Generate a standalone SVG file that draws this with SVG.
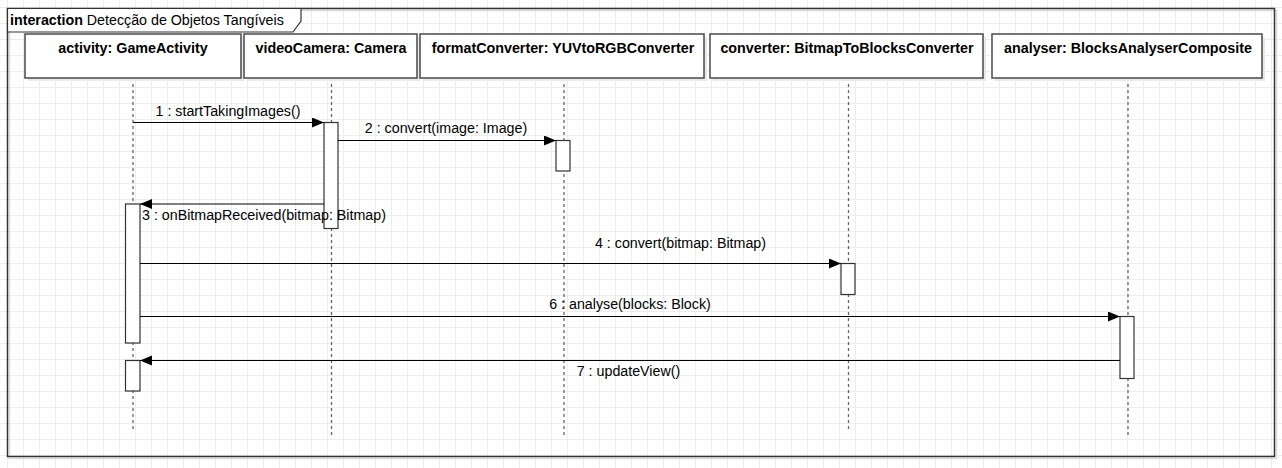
<svg xmlns="http://www.w3.org/2000/svg" width="1282" height="468" viewBox="0 0 1282 468">
<style>
.hdr{fill:#fff;stroke:#4a4a4a;stroke-width:1.5}
.shd{fill:#e9e9e9;stroke:none}
.htxt{font-family:"Liberation Sans",Arial,sans-serif;font-size:14.3px;font-weight:bold;fill:#000;text-anchor:middle}
.life{stroke:#666;stroke-width:1.3;stroke-dasharray:3 3;fill:none}
.act{fill:#fff;stroke:#333;stroke-width:1.2}
.msg{stroke:#000;stroke-width:1.2;fill:none}
.lbl{font-family:"Liberation Sans",Arial,sans-serif;font-size:14.25px;fill:#000}
</style>
<defs>
<pattern id="grid" patternUnits="userSpaceOnUse" x="7" y="7" width="16" height="16">
<path d="M0.5 0V16M0 0.5H16" stroke="#ededed" stroke-width="1" fill="none"/>
</pattern>
<marker id="arr" markerUnits="userSpaceOnUse" markerWidth="14" markerHeight="12" refX="12" refY="5" orient="auto">
<path d="M0 0L12 5L0 10Z" fill="#000"/>
</marker>
</defs>
<rect x="0" y="0" width="1282" height="468" fill="#fff"/>
<rect x="0" y="0" width="1282" height="468" fill="url(#grid)"/>
<g id="frame">
<rect x="9.5" y="10.5" width="1267" height="448" fill="none" stroke="#ddd" stroke-width="1.5"/>
<rect x="7.5" y="8.5" width="1267" height="448" fill="none" stroke="#333" stroke-width="1.5"/>
<path d="M7.5 8.5H301V21L293 32H7.5Z" fill="#fff" stroke="#333" stroke-width="1.2"/>
<text x="10" y="25" class="lbl"><tspan font-weight="bold">interaction</tspan> Detecção de Objetos Tangíveis</text>
</g>
<g id="lifelines">
<path class="life" d="M133 78V430"/>
<path class="life" d="M331.5 78V438"/>
<path class="life" d="M564 78V438"/>
<path class="life" d="M848.5 78V430"/>
<path class="life" d="M1128 78V438"/>
</g>
<g id="activity">
<rect class="shd" x="28" y="37" width="216" height="44"/>
<rect class="hdr" x="25" y="34" width="216" height="44"/>
<text class="htxt" x="133" y="53">activity: GameActivity</text>
</g>
<g id="videoCamera">
<rect class="shd" x="247" y="37" width="173" height="44"/>
<rect class="hdr" x="244" y="34" width="173" height="44"/>
<text class="htxt" x="331" y="53">videoCamera: Camera</text>
</g>
<g id="formatConverter">
<rect class="shd" x="423" y="37" width="284" height="44"/>
<rect class="hdr" x="420" y="34" width="284" height="44"/>
<text class="htxt" x="563" y="53">formatConverter: YUVtoRGBConverter</text>
</g>
<g id="converter">
<rect class="shd" x="713" y="37" width="273" height="44"/>
<rect class="hdr" x="710" y="34" width="273" height="44"/>
<text class="htxt" x="847" y="53">converter: BitmapToBlocksConverter</text>
</g>
<g id="analyser">
<rect class="shd" x="995" y="37" width="270" height="44"/>
<rect class="hdr" x="992" y="34" width="270" height="44"/>
<text class="htxt" x="1128" y="53">analyser: BlocksAnalyserComposite</text>
</g>
<g id="activations">
<rect class="act" x="324" y="122.5" width="14" height="106"/>
<rect class="act" x="556" y="140.5" width="14" height="30.5"/>
<rect class="act" x="125.5" y="204" width="14.5" height="139"/>
<rect class="act" x="125.5" y="360.5" width="14.5" height="30.5"/>
<rect class="act" x="841" y="263.5" width="14" height="31"/>
<rect class="act" x="1120" y="316.5" width="14" height="62"/>
</g>
<g id="connectors">
<path class="msg" d="M133 122.5H324" marker-end="url(#arr)"/>
<path class="msg" d="M338 140.5H556" marker-end="url(#arr)"/>
<path class="msg" d="M324 204H140" marker-end="url(#arr)"/>
<path class="msg" d="M140 263.5H841" marker-end="url(#arr)"/>
<path class="msg" d="M140 316.5H1120" marker-end="url(#arr)"/>
<path class="msg" d="M1120 360.5H140" marker-end="url(#arr)"/>
<text class="lbl" x="228" y="116" text-anchor="middle">1 : startTakingImages()</text>
<text class="lbl" x="446" y="133" text-anchor="middle">2 : convert(image: Image)</text>
<text class="lbl" x="142" y="220">3 : onBitmapReceived(bitmap: Bitmap)</text>
<text class="lbl" x="680.5" y="247.5" text-anchor="middle">4 : convert(bitmap: Bitmap)</text>
<text class="lbl" x="630" y="309" text-anchor="middle">6 : analyse(blocks: Block)</text>
<text class="lbl" x="628.5" y="376" text-anchor="middle">7 : updateView()</text>
</g>
</svg>
